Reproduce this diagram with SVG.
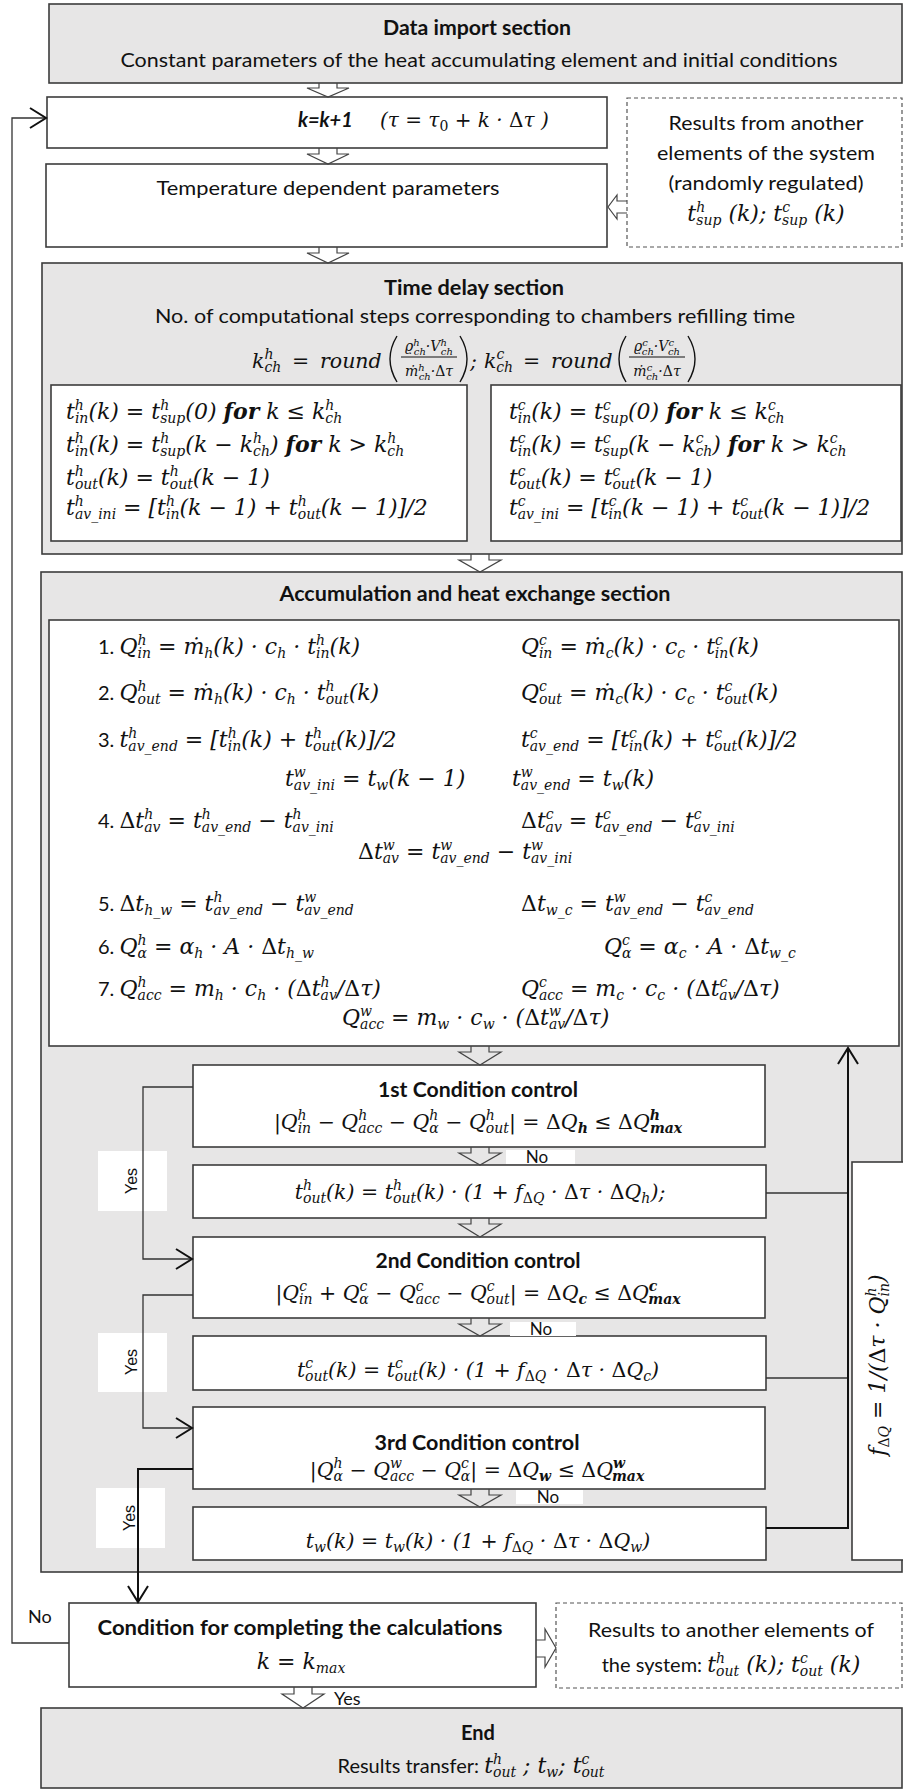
<svg xmlns="http://www.w3.org/2000/svg" width="903" height="1789" viewBox="0 0 903 1789">
<defs>
<style>
.gx{fill:#e7e6e6;stroke:#3c3c3c;stroke-width:1.6}
.bx{fill:#fff;stroke:#3c3c3c;stroke-width:1.6}
.dx{fill:#fff;stroke:#555;stroke-width:1.2;stroke-dasharray:4 3}
.ha{fill:none;stroke:#444;stroke-width:1.2}
.ln{fill:none;stroke:#333;stroke-width:1.3}
.lk{fill:none;stroke:#111;stroke-width:2}
.fl{fill:none;stroke:#111;stroke-width:1}
.pr{fill:none;stroke:#111;stroke-width:1.4}
.lbl{fill:#fff}
.t{font-family:Lato,"Liberation Sans",sans-serif;font-size:20px;fill:#111}
.tb{font-weight:bold}
.c{text-anchor:middle}
.m{font-family:"DejaVu Serif","Liberation Serif",serif;font-style:italic;font-size:22px;fill:#111}
.m20{font-size:20px}
.m21{font-size:20.5px}
.s{font-size:14px}
.s2{font-size:10px}
.f{font-size:14px}
.u{font-style:normal}
.w{font-weight:bold}
.n{font-size:17px}
.y{font-family:"Liberation Sans",Arial,sans-serif;font-size:16px;fill:#111}
</style>
<marker id="ch" viewBox="0 0 20 22" refX="18" refY="11" markerWidth="20" markerHeight="22" markerUnits="userSpaceOnUse" orient="auto">
<path d="M2,1 L18,11 L2,21" fill="none" stroke="#111" stroke-width="2"/>
</marker>
</defs>

<g id="data-import">
<rect class="gx" x="49" y="4" width="853" height="79"/>
<text class="t tb c" x="477" y="35" textLength="188" lengthAdjust="spacingAndGlyphs">Data import section</text>
<text class="t c" x="479" y="67" textLength="717" lengthAdjust="spacingAndGlyphs">Constant parameters of the heat accumulating element and initial conditions</text>
</g>

<g id="k-step">
<rect class="bx" x="47" y="97" width="560" height="51"/>
<text class="t tb" x="298" y="127" font-style="italic">k=k+1</text>
<text class="m m20" x="380" y="127">(τ = τ<tspan class="s u" dy="4">0</tspan><tspan dy="-4"> + k · </tspan><tspan class="u">Δ</tspan>τ )</text>
</g>

<g id="temp-params">
<rect class="bx" x="46" y="164" width="561" height="83"/>
<text class="t c" x="328" y="195" textLength="343" lengthAdjust="spacingAndGlyphs">Temperature dependent parameters</text>
</g>

<g id="results-from">
<rect class="dx" x="627" y="98" width="275" height="149"/>
<text class="t c" x="766" y="130" textLength="195" lengthAdjust="spacingAndGlyphs">Results from another</text>
<text class="t c" x="766" y="160" textLength="218" lengthAdjust="spacingAndGlyphs">elements of the system</text>
<text class="t c" x="766" y="190" textLength="195" lengthAdjust="spacingAndGlyphs">(randomly regulated)</text>
<text class="m c" x="766" y="221">t<tspan class="s" dy="-9">h</tspan><tspan class="s" dx="-9" dy="13">sup</tspan><tspan dy="-4"> (k); t</tspan><tspan class="s" dy="-9">c</tspan><tspan class="s" dx="-8" dy="13">sup</tspan><tspan dy="-4"> (k)</tspan></text>
</g>

<g id="time-delay">
<rect class="gx" x="42" y="263" width="860" height="291"/>
<text class="t tb c" x="474" y="295" textLength="180" lengthAdjust="spacingAndGlyphs">Time delay section</text>
<text class="t c" x="475" y="323" textLength="640" lengthAdjust="spacingAndGlyphs">No. of computational steps corresponding to chambers refilling time</text>
<text class="m m21" y="368"><tspan x="252">k</tspan><tspan class="s" dy="-9">h</tspan><tspan class="s" dx="-9" dy="13">ch</tspan><tspan x="292" dy="-4">=</tspan><tspan x="320">round</tspan></text>
<path class="pr" d="M397,336 Q383,359 397,382"/>
<text class="m f c" x="429" y="351">ϱ<tspan class="s2" dy="-5">h</tspan><tspan class="s2" dx="-6" dy="9">ch</tspan><tspan dy="-4">·V</tspan><tspan class="s2" dy="-5">h</tspan><tspan class="s2" dx="-6" dy="9">ch</tspan></text>
<path class="fl" d="M401,357 H457"/>
<text class="m f c" x="429" y="376">ṁ<tspan class="s2" dy="-5">h</tspan><tspan class="s2" dx="-6" dy="9">ch</tspan><tspan dy="-4">·</tspan><tspan class="u">Δ</tspan>τ</text>
<path class="pr" d="M460,336 Q474,359 460,382"/>
<text class="m m21" x="470" y="368">;</text>
<text class="m m21" y="368"><tspan x="484">k</tspan><tspan class="s" dy="-9">c</tspan><tspan class="s" dx="-8" dy="13">ch</tspan><tspan x="523" dy="-4">=</tspan><tspan x="551">round</tspan></text>
<path class="pr" d="M626,336 Q612,359 626,382"/>
<text class="m f c" x="657" y="351">ϱ<tspan class="s2" dy="-5">c</tspan><tspan class="s2" dx="-6" dy="9">ch</tspan><tspan dy="-4">·V</tspan><tspan class="s2" dy="-5">c</tspan><tspan class="s2" dx="-6" dy="9">ch</tspan></text>
<path class="fl" d="M629,357 H685"/>
<text class="m f c" x="657" y="376">ṁ<tspan class="s2" dy="-5">c</tspan><tspan class="s2" dx="-6" dy="9">ch</tspan><tspan dy="-4">·</tspan><tspan class="u">Δ</tspan>τ</text>
<path class="pr" d="M688,336 Q702,359 688,382"/>
</g>

<g id="hot-delay">
<rect class="bx" x="51" y="385" width="416" height="156"/>
<text class="m" x="66" y="419">t<tspan class="s" dy="-9">h</tspan><tspan class="s" dx="-9" dy="13">in</tspan><tspan dy="-4">(k) = t</tspan><tspan class="s" dy="-9">h</tspan><tspan class="s" dx="-9" dy="13">sup</tspan><tspan dy="-4">(0) </tspan><tspan class="w">for</tspan><tspan> k ≤ k</tspan><tspan class="s" dy="-9">h</tspan><tspan class="s" dx="-9" dy="13">ch</tspan></text>
<text class="m" x="66" y="452">t<tspan class="s" dy="-9">h</tspan><tspan class="s" dx="-9" dy="13">in</tspan><tspan dy="-4">(k) = t</tspan><tspan class="s" dy="-9">h</tspan><tspan class="s" dx="-9" dy="13">sup</tspan><tspan dy="-4">(k − k</tspan><tspan class="s" dy="-9">h</tspan><tspan class="s" dx="-9" dy="13">ch</tspan><tspan dy="-4">) </tspan><tspan class="w">for</tspan><tspan> k &gt; k</tspan><tspan class="s" dy="-9">h</tspan><tspan class="s" dx="-9" dy="13">ch</tspan></text>
<text class="m" x="66" y="485">t<tspan class="s" dy="-9">h</tspan><tspan class="s" dx="-9" dy="13">out</tspan><tspan dy="-4">(k) = t</tspan><tspan class="s" dy="-9">h</tspan><tspan class="s" dx="-9" dy="13">out</tspan><tspan dy="-4">(k − 1)</tspan></text>
<text class="m" x="66" y="515">t<tspan class="s" dy="-9">h</tspan><tspan class="s" dx="-9" dy="13">av_ini</tspan><tspan dy="-4"> = [t</tspan><tspan class="s" dy="-9">h</tspan><tspan class="s" dx="-9" dy="13">in</tspan><tspan dy="-4">(k − 1) + t</tspan><tspan class="s" dy="-9">h</tspan><tspan class="s" dx="-9" dy="13">out</tspan><tspan dy="-4">(k − 1)]/2</tspan></text>
</g>

<g id="cold-delay">
<rect class="bx" x="491" y="385" width="410" height="156"/>
<text class="m" x="509" y="419">t<tspan class="s" dy="-9">c</tspan><tspan class="s" dx="-8" dy="13">in</tspan><tspan dy="-4">(k) = t</tspan><tspan class="s" dy="-9">c</tspan><tspan class="s" dx="-8" dy="13">sup</tspan><tspan dy="-4">(0) </tspan><tspan class="w">for</tspan><tspan> k ≤ k</tspan><tspan class="s" dy="-9">c</tspan><tspan class="s" dx="-8" dy="13">ch</tspan></text>
<text class="m" x="509" y="452">t<tspan class="s" dy="-9">c</tspan><tspan class="s" dx="-8" dy="13">in</tspan><tspan dy="-4">(k) = t</tspan><tspan class="s" dy="-9">c</tspan><tspan class="s" dx="-8" dy="13">sup</tspan><tspan dy="-4">(k − k</tspan><tspan class="s" dy="-9">c</tspan><tspan class="s" dx="-8" dy="13">ch</tspan><tspan dy="-4">) </tspan><tspan class="w">for</tspan><tspan> k &gt; k</tspan><tspan class="s" dy="-9">c</tspan><tspan class="s" dx="-8" dy="13">ch</tspan></text>
<text class="m" x="509" y="485">t<tspan class="s" dy="-9">c</tspan><tspan class="s" dx="-8" dy="13">out</tspan><tspan dy="-4">(k) = t</tspan><tspan class="s" dy="-9">c</tspan><tspan class="s" dx="-8" dy="13">out</tspan><tspan dy="-4">(k − 1)</tspan></text>
<text class="m" x="509" y="515">t<tspan class="s" dy="-9">c</tspan><tspan class="s" dx="-8" dy="13">av_ini</tspan><tspan dy="-4"> = [t</tspan><tspan class="s" dy="-9">c</tspan><tspan class="s" dx="-8" dy="13">in</tspan><tspan dy="-4">(k − 1) + t</tspan><tspan class="s" dy="-9">c</tspan><tspan class="s" dx="-8" dy="13">out</tspan><tspan dy="-4">(k − 1)]/2</tspan></text>
</g>

<g id="accumulation">
<rect class="gx" x="41" y="572" width="861" height="1000"/>
<text class="t tb c" x="475" y="601" textLength="391" lengthAdjust="spacingAndGlyphs">Accumulation and heat exchange section</text>
</g>

<g id="equations">
<rect class="bx" x="49" y="620" width="850" height="426"/>
<text class="m" x="98" y="654"><tspan class="t u">1. </tspan>Q<tspan class="s" dy="-9">h</tspan><tspan class="s" dx="-9" dy="13">in</tspan><tspan dy="-4"> = ṁ</tspan><tspan class="s" dy="4">h</tspan><tspan dy="-4">(k) · c</tspan><tspan class="s" dy="4">h</tspan><tspan dy="-4"> · t</tspan><tspan class="s" dy="-9">h</tspan><tspan class="s" dx="-9" dy="13">in</tspan><tspan dy="-4">(k)</tspan></text>
<text class="m" x="521" y="654">Q<tspan class="s" dy="-9">c</tspan><tspan class="s" dx="-8" dy="13">in</tspan><tspan dy="-4"> = ṁ</tspan><tspan class="s" dy="4">c</tspan><tspan dy="-4">(k) · c</tspan><tspan class="s" dy="4">c</tspan><tspan dy="-4"> · t</tspan><tspan class="s" dy="-9">c</tspan><tspan class="s" dx="-8" dy="13">in</tspan><tspan dy="-4">(k)</tspan></text>
<text class="m" x="98" y="700"><tspan class="t u">2. </tspan>Q<tspan class="s" dy="-9">h</tspan><tspan class="s" dx="-9" dy="13">out</tspan><tspan dy="-4"> = ṁ</tspan><tspan class="s" dy="4">h</tspan><tspan dy="-4">(k) · c</tspan><tspan class="s" dy="4">h</tspan><tspan dy="-4"> · t</tspan><tspan class="s" dy="-9">h</tspan><tspan class="s" dx="-9" dy="13">out</tspan><tspan dy="-4">(k)</tspan></text>
<text class="m" x="521" y="700">Q<tspan class="s" dy="-9">c</tspan><tspan class="s" dx="-8" dy="13">out</tspan><tspan dy="-4"> = ṁ</tspan><tspan class="s" dy="4">c</tspan><tspan dy="-4">(k) · c</tspan><tspan class="s" dy="4">c</tspan><tspan dy="-4"> · t</tspan><tspan class="s" dy="-9">c</tspan><tspan class="s" dx="-8" dy="13">out</tspan><tspan dy="-4">(k)</tspan></text>
<text class="m" x="98" y="747"><tspan class="t u">3. </tspan>t<tspan class="s" dy="-9">h</tspan><tspan class="s" dx="-9" dy="13">av_end</tspan><tspan dy="-4"> = [t</tspan><tspan class="s" dy="-9">h</tspan><tspan class="s" dx="-9" dy="13">in</tspan><tspan dy="-4">(k) + t</tspan><tspan class="s" dy="-9">h</tspan><tspan class="s" dx="-9" dy="13">out</tspan><tspan dy="-4">(k)]/2</tspan></text>
<text class="m" x="521" y="747">t<tspan class="s" dy="-9">c</tspan><tspan class="s" dx="-8" dy="13">av_end</tspan><tspan dy="-4"> = [t</tspan><tspan class="s" dy="-9">c</tspan><tspan class="s" dx="-8" dy="13">in</tspan><tspan dy="-4">(k) + t</tspan><tspan class="s" dy="-9">c</tspan><tspan class="s" dx="-8" dy="13">out</tspan><tspan dy="-4">(k)]/2</tspan></text>
<text class="m" x="285" y="786">t<tspan class="s" dy="-9">w</tspan><tspan class="s" dx="-12" dy="13">av_ini</tspan><tspan dy="-4"> = t</tspan><tspan class="s" dy="4">w</tspan><tspan dy="-4">(k − 1)</tspan></text>
<text class="m" x="512" y="786">t<tspan class="s" dy="-9">w</tspan><tspan class="s" dx="-12" dy="13">av_end</tspan><tspan dy="-4"> = t</tspan><tspan class="s" dy="4">w</tspan><tspan dy="-4">(k)</tspan></text>
<text class="m" x="98" y="828"><tspan class="t u">4. </tspan><tspan class="u">Δ</tspan>t<tspan class="s" dy="-9">h</tspan><tspan class="s" dx="-9" dy="13">av</tspan><tspan dy="-4"> = t</tspan><tspan class="s" dy="-9">h</tspan><tspan class="s" dx="-9" dy="13">av_end</tspan><tspan dy="-4"> − t</tspan><tspan class="s" dy="-9">h</tspan><tspan class="s" dx="-9" dy="13">av_ini</tspan></text>
<text class="m" x="521" y="828"><tspan class="u">Δ</tspan>t<tspan class="s" dy="-9">c</tspan><tspan class="s" dx="-8" dy="13">av</tspan><tspan dy="-4"> = t</tspan><tspan class="s" dy="-9">c</tspan><tspan class="s" dx="-8" dy="13">av_end</tspan><tspan dy="-4"> − t</tspan><tspan class="s" dy="-9">c</tspan><tspan class="s" dx="-8" dy="13">av_ini</tspan></text>
<text class="m" x="358" y="859"><tspan class="u">Δ</tspan>t<tspan class="s" dy="-9">w</tspan><tspan class="s" dx="-12" dy="13">av</tspan><tspan dy="-4"> = t</tspan><tspan class="s" dy="-9">w</tspan><tspan class="s" dx="-12" dy="13">av_end</tspan><tspan dy="-4"> − t</tspan><tspan class="s" dy="-9">w</tspan><tspan class="s" dx="-12" dy="13">av_ini</tspan></text>
<text class="m" x="98" y="911"><tspan class="t u">5. </tspan><tspan class="u">Δ</tspan>t<tspan class="s" dy="4">h_w</tspan><tspan dy="-4"> = t</tspan><tspan class="s" dy="-9">h</tspan><tspan class="s" dx="-9" dy="13">av_end</tspan><tspan dy="-4"> − t</tspan><tspan class="s" dy="-9">w</tspan><tspan class="s" dx="-12" dy="13">av_end</tspan></text>
<text class="m" x="521" y="911"><tspan class="u">Δ</tspan>t<tspan class="s" dy="4">w_c</tspan><tspan dy="-4"> = t</tspan><tspan class="s" dy="-9">w</tspan><tspan class="s" dx="-12" dy="13">av_end</tspan><tspan dy="-4"> − t</tspan><tspan class="s" dy="-9">c</tspan><tspan class="s" dx="-8" dy="13">av_end</tspan></text>
<text class="m" x="98" y="954"><tspan class="t u">6. </tspan>Q<tspan class="s" dy="-9">h</tspan><tspan class="s" dx="-9" dy="13">α</tspan><tspan dy="-4"> = α</tspan><tspan class="s" dy="4">h</tspan><tspan dy="-4"> · A · </tspan><tspan class="u">Δ</tspan>t<tspan class="s" dy="4">h_w</tspan></text>
<text class="m" x="604" y="954">Q<tspan class="s" dy="-9">c</tspan><tspan class="s" dx="-8" dy="13">α</tspan><tspan dy="-4"> = α</tspan><tspan class="s" dy="4">c</tspan><tspan dy="-4"> · A · </tspan><tspan class="u">Δ</tspan>t<tspan class="s" dy="4">w_c</tspan></text>
<text class="m" x="98" y="996"><tspan class="t u">7. </tspan>Q<tspan class="s" dy="-9">h</tspan><tspan class="s" dx="-9" dy="13">acc</tspan><tspan dy="-4"> = m</tspan><tspan class="s" dy="4">h</tspan><tspan dy="-4"> · c</tspan><tspan class="s" dy="4">h</tspan><tspan dy="-4"> · (</tspan><tspan class="u">Δ</tspan>t<tspan class="s" dy="-9">h</tspan><tspan class="s" dx="-9" dy="13">av</tspan><tspan dy="-4">/</tspan><tspan class="u">Δ</tspan>τ)</text>
<text class="m" x="521" y="996">Q<tspan class="s" dy="-9">c</tspan><tspan class="s" dx="-8" dy="13">acc</tspan><tspan dy="-4"> = m</tspan><tspan class="s" dy="4">c</tspan><tspan dy="-4"> · c</tspan><tspan class="s" dy="4">c</tspan><tspan dy="-4"> · (</tspan><tspan class="u">Δ</tspan>t<tspan class="s" dy="-9">c</tspan><tspan class="s" dx="-8" dy="13">av</tspan><tspan dy="-4">/</tspan><tspan class="u">Δ</tspan>τ)</text>
<text class="m" x="342" y="1025">Q<tspan class="s" dy="-9">w</tspan><tspan class="s" dx="-12" dy="13">acc</tspan><tspan dy="-4"> = m</tspan><tspan class="s" dy="4">w</tspan><tspan dy="-4"> · c</tspan><tspan class="s" dy="4">w</tspan><tspan dy="-4"> · (</tspan><tspan class="u">Δ</tspan>t<tspan class="s" dy="-9">w</tspan><tspan class="s" dx="-12" dy="13">av</tspan><tspan dy="-4">/</tspan><tspan class="u">Δ</tspan>τ)</text>
</g>

<g id="cond1">
<rect class="bx" x="193" y="1065" width="572" height="82"/>
<text class="t tb c" x="478" y="1097" textLength="200" lengthAdjust="spacingAndGlyphs">1st Condition control</text>
<text class="m m21 c" x="478" y="1129">|Q<tspan class="s" dy="-9">h</tspan><tspan class="s" dx="-9" dy="13">in</tspan><tspan dy="-4"> − Q</tspan><tspan class="s" dy="-9">h</tspan><tspan class="s" dx="-9" dy="13">acc</tspan><tspan dy="-4"> − Q</tspan><tspan class="s" dy="-9">h</tspan><tspan class="s" dx="-9" dy="13">α</tspan><tspan dy="-4"> − Q</tspan><tspan class="s" dy="-9">h</tspan><tspan class="s" dx="-9" dy="13">out</tspan><tspan dy="-4">| = </tspan><tspan class="u">Δ</tspan>Q<tspan class="s w" dy="4">h</tspan><tspan dy="-4"> ≤ </tspan><tspan class="u">Δ</tspan>Q<tspan class="s w" dy="-9">h</tspan><tspan class="s w" dx="-10" dy="13">max</tspan></text>
</g>

<g id="corr-hot">
<rect class="bx" x="193" y="1165" width="573" height="53"/>
<text class="m m21 c" x="480" y="1199">t<tspan class="s" dy="-9">h</tspan><tspan class="s" dx="-9" dy="13">out</tspan><tspan dy="-4">(k) = t</tspan><tspan class="s" dy="-9">h</tspan><tspan class="s" dx="-9" dy="13">out</tspan><tspan dy="-4">(k) · (1 + f</tspan><tspan class="s" dy="4"><tspan class="u">Δ</tspan>Q</tspan><tspan dy="-4"> · </tspan><tspan class="u">Δ</tspan>τ · <tspan class="u">Δ</tspan>Q<tspan class="s" dy="4">h</tspan><tspan dy="-4">);</tspan></text>
</g>

<g id="cond2">
<rect class="bx" x="193" y="1237" width="572" height="81"/>
<text class="t tb c" x="478" y="1268" textLength="205" lengthAdjust="spacingAndGlyphs">2nd Condition control</text>
<text class="m m21 c" x="478" y="1300">|Q<tspan class="s" dy="-9">c</tspan><tspan class="s" dx="-8" dy="13">in</tspan><tspan dy="-4"> + Q</tspan><tspan class="s" dy="-9">c</tspan><tspan class="s" dx="-8" dy="13">α</tspan><tspan dy="-4"> − Q</tspan><tspan class="s" dy="-9">c</tspan><tspan class="s" dx="-8" dy="13">acc</tspan><tspan dy="-4"> − Q</tspan><tspan class="s" dy="-9">c</tspan><tspan class="s" dx="-8" dy="13">out</tspan><tspan dy="-4">| = </tspan><tspan class="u">Δ</tspan>Q<tspan class="s w" dy="4">c</tspan><tspan dy="-4"> ≤ </tspan><tspan class="u">Δ</tspan>Q<tspan class="s w" dy="-9">c</tspan><tspan class="s w" dx="-9" dy="13">max</tspan></text>
</g>

<g id="corr-cold">
<rect class="bx" x="193" y="1336" width="573" height="54"/>
<text class="m m21 c" x="478" y="1377">t<tspan class="s" dy="-9">c</tspan><tspan class="s" dx="-8" dy="13">out</tspan><tspan dy="-4">(k) = t</tspan><tspan class="s" dy="-9">c</tspan><tspan class="s" dx="-8" dy="13">out</tspan><tspan dy="-4">(k) · (1 + f</tspan><tspan class="s" dy="4"><tspan class="u">Δ</tspan>Q</tspan><tspan dy="-4"> · </tspan><tspan class="u">Δ</tspan>τ · <tspan class="u">Δ</tspan>Q<tspan class="s" dy="4">c</tspan><tspan dy="-4">)</tspan></text>
</g>

<g id="cond3">
<rect class="bx" x="193" y="1407" width="572" height="82"/>
<text class="t tb c" x="477" y="1450" textLength="205" lengthAdjust="spacingAndGlyphs">3rd Condition control</text>
<text class="m m21 c" x="477" y="1477">|Q<tspan class="s" dy="-9">h</tspan><tspan class="s" dx="-9" dy="13">α</tspan><tspan dy="-4"> − Q</tspan><tspan class="s" dy="-9">w</tspan><tspan class="s" dx="-12" dy="13">acc</tspan><tspan dy="-4"> − Q</tspan><tspan class="s" dy="-9">c</tspan><tspan class="s" dx="-8" dy="13">α</tspan><tspan dy="-4">| = </tspan><tspan class="u">Δ</tspan>Q<tspan class="s w" dy="4">w</tspan><tspan dy="-4"> ≤ </tspan><tspan class="u">Δ</tspan>Q<tspan class="s w" dy="-9">w</tspan><tspan class="s w" dx="-13" dy="13">max</tspan></text>
</g>

<g id="corr-wall">
<rect class="bx" x="193" y="1507" width="573" height="53"/>
<text class="m m21 c" x="478" y="1548">t<tspan class="s" dy="4">w</tspan><tspan dy="-4">(k) = t</tspan><tspan class="s" dy="4">w</tspan><tspan dy="-4">(k) · (1 + f</tspan><tspan class="s" dy="4"><tspan class="u">Δ</tspan>Q</tspan><tspan dy="-4"> · </tspan><tspan class="u">Δ</tspan>τ · <tspan class="u">Δ</tspan>Q<tspan class="s" dy="4">w</tspan><tspan dy="-4">)</tspan></text>
</g>

<g id="f-factor">
<rect class="bx" x="852" y="1162" width="52" height="398"/>
<text class="m c" transform="translate(885,1365) rotate(-90)">f<tspan class="s" dy="4"><tspan class="u">Δ</tspan>Q</tspan><tspan dy="-4"> = 1/(</tspan><tspan class="u">Δ</tspan>τ · Q<tspan class="s" dy="-9">h</tspan><tspan class="s" dx="-9" dy="13">in</tspan><tspan dy="-4">)</tspan></text>
</g>

<g id="completion">
<rect class="bx" x="69" y="1603" width="467" height="84"/>
<text class="t tb c" x="300" y="1635" textLength="405" lengthAdjust="spacingAndGlyphs">Condition for completing the calculations</text>
<text class="m c" x="301" y="1669">k = k<tspan class="s" dy="4">max</tspan></text>
</g>

<g id="results-to">
<rect class="dx" x="556" y="1603" width="346" height="85"/>
<text class="t c" x="731" y="1637" textLength="286" lengthAdjust="spacingAndGlyphs">Results to another elements of</text>
<text class="m c" x="731" y="1672"><tspan class="t u">the system: </tspan>t<tspan class="s" dy="-9">h</tspan><tspan class="s" dx="-9" dy="13">out</tspan><tspan dy="-4"> (k); t</tspan><tspan class="s" dy="-9">c</tspan><tspan class="s" dx="-8" dy="13">out</tspan><tspan dy="-4"> (k)</tspan></text>
</g>

<g id="end">
<rect class="gx" x="41" y="1708" width="861" height="80"/>
<text class="t tb c" x="478" y="1740">End</text>
<text class="m c" x="471" y="1773"><tspan class="t u">Results transfer: </tspan>t<tspan class="s" dy="-9">h</tspan><tspan class="s" dx="-9" dy="13">out</tspan><tspan dy="-4"> ; t</tspan><tspan class="s" dy="4">w</tspan><tspan dy="-4">; t</tspan><tspan class="s" dy="-9">c</tspan><tspan class="s" dx="-8" dy="13">out</tspan></text>
</g>

<g id="connectors">
<path class="ha" d="M319,83 V88 H307 L328,97 L349,88 H337 V83"/>
<path class="ha" d="M319,148 V154 H307 L328,164 L349,154 H337 V148"/>
<path class="ha" d="M319,247 V253 H307 L328,263 L349,253 H337 V247"/>
<path class="ha" d="M627,201 H617 V195 L608,207 L617,219 V213 H627"/>
<path class="ha" d="M471,554 V560 H459 L480,572 L501,560 H489 V554"/>
<path class="ha" d="M471,1046 V1052 H459 L480,1065 L501,1052 H489 V1046"/>
<path class="ha" d="M471,1147 V1153 H459 L480,1165 L501,1153 H489 V1147"/>
<path class="ha" d="M471,1218 V1224 H459 L480,1237 L501,1224 H489 V1218"/>
<path class="ha" d="M471,1318 V1324 H459 L480,1336 L501,1324 H489 V1318"/>
<path class="ha" d="M471,1489 V1495 H459 L480,1507 L501,1495 H489 V1489"/>
<path class="ha" d="M536,1640 H545 V1629 L556,1648 L545,1667 V1657 H536"/>
<path class="ha" d="M294,1687 V1694 H282 L303,1708 L324,1694 H312 V1687"/>

<rect class="lbl" x="506" y="1150" width="69" height="14"/>
<rect class="lbl" x="510" y="1322" width="66" height="14"/>
<rect class="lbl" x="516" y="1490" width="67" height="14"/>
<text class="t n c" x="537" y="1163">No</text>
<text class="t n c" x="541" y="1335">No</text>
<text class="t n c" x="548" y="1503">No</text>

<rect class="lbl" x="98" y="1151" width="69" height="60"/>
<rect class="lbl" x="98" y="1333" width="69" height="59"/>
<rect class="lbl" x="96" y="1488" width="69" height="60"/>

<path class="ln" d="M69,1643 H12 V118 H46" marker-end="url(#ch)"/>
<path class="ln" d="M193,1087 H143 V1259 H192" marker-end="url(#ch)"/>
<path class="ln" d="M193,1295 H143 V1428 H192" marker-end="url(#ch)"/>
<path class="lk" d="M193,1469 H138 V1602" marker-end="url(#ch)"/>
<path class="ln" d="M766,1193 H848"/>
<path class="ln" d="M766,1378 H848"/>
<path class="lk" d="M766,1528 H848 V1048" marker-end="url(#ch)"/>

<text class="y c" transform="translate(137,1181) rotate(-90)">Yes</text>
<text class="y c" transform="translate(137,1362) rotate(-90)">Yes</text>
<text class="y c" transform="translate(135,1518) rotate(-90)">Yes</text>
<text class="t" x="28" y="1623" style="font-size:18px">No</text>
<text class="t" x="334" y="1705" style="font-size:18px">Yes</text>
</g>
</svg>
